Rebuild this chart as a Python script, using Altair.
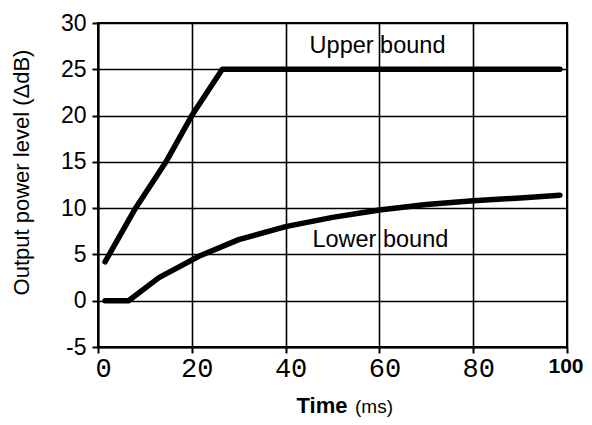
import altair as alt
import pandas as pd

# ---- data ----
upper_t = [1.5, 8, 14.5, 20, 26.5, 98.5]
upper_db = [4.2, 10, 15, 20, 25, 25]
lower_t = [1.5, 6.5, 13, 21.5, 30, 40, 50, 60, 70, 80, 90, 98.5]
lower_db = [0, 0, 2.5, 4.8, 6.6, 8.0, 9.0, 9.8, 10.4, 10.8, 11.1, 11.4]
x_ticks = [0, 20, 40, 60, 80, 100]
y_ticks = [-5, 0, 5, 10, 15, 20, 25, 30]
ann_text = ["Upper bound", "Lower bound"]
ann_t = [59.6, 60.2]
ann_db = [27.5, 6.6]

lines = pd.DataFrame({
    "t": upper_t + lower_t,
    "db": upper_db + lower_db,
    "series": ["Upper"] * len(upper_t) + ["Lower"] * len(lower_t),
})
ann = pd.DataFrame({"label": ann_text, "t": ann_t, "db": ann_db})

is100 = "datum.value == 100"
x_enc = alt.X(
    "t:Q",
    scale=alt.Scale(domain=[0, 100], nice=False, zero=False),
    axis=alt.Axis(
        values=x_ticks, grid=True, title=None,
        labelFont={"condition": {"test": is100, "value": "Liberation Sans"}, "value": "Liberation Mono"},
        labelFontSize={"condition": {"test": is100, "value": 21}, "value": 27},
        labelFontWeight={"condition": {"test": is100, "value": "bold"}, "value": "normal"},
        labelAlign={"condition": {"test": is100, "value": "right"}, "value": "center"},
        labelOffset={"condition": {"test": is100, "value": 16}, "value": 5},
        labelPadding=2, labelColor="black", labelBound=False, labelOverlap=False,
    ),
)
y_enc = alt.Y(
    "db:Q",
    scale=alt.Scale(domain=[-5, 30], nice=False, zero=False),
    axis=alt.Axis(
        values=y_ticks, grid=True, title="Output power level (\u0394dB)",
        labelExpr="'' + datum.value", labelFont="Liberation Sans", labelFontSize=23,
        labelPadding=6, labelColor="black",
        titleFont="Liberation Sans", titleFontSize=22, titleFontWeight="normal", titleColor="black",
        titleX=-77, titleY=149, titleAngle=270, titleAlign="center", titleBaseline="middle",
    ),
)

line = alt.Chart(lines).mark_line(color="black", strokeWidth=5.5, strokeCap="round", strokeJoin="round").encode(
    x=x_enc, y=y_enc, detail="series:N", order="t:Q"
)

labels = alt.Chart(ann).mark_text(font="Liberation Sans", fontSize=23.5, color="black", align="center", baseline="middle").encode(
    x="t:Q", y="db:Q", text="label:N"
)

time_txt = alt.Chart(pd.DataFrame({"s": ["Time"]})).mark_text(
    font="Liberation Sans", fontSize=22, fontWeight="bold", color="black", align="center", baseline="alphabetic"
).encode(x=alt.value(224), y=alt.value(390), text="s:N")

ms_txt = alt.Chart(pd.DataFrame({"s": ["(ms)"]})).mark_text(
    font="Liberation Sans", fontSize=19, color="black", align="center", baseline="alphabetic"
).encode(x=alt.value(276), y=alt.value(390), text="s:N")

chart = alt.layer(line, labels, time_txt, ms_txt).properties(
    width=469, height=324,
    autosize=alt.AutoSizeParams(type="none"),
    padding={"left": 90, "top": 15, "right": 17, "bottom": 70},
).configure_axis(
    gridColor="black", gridWidth=1.6, gridOpacity=1,
    domainColor="black", domainWidth=2,
    tickColor="black", tickWidth=2, tickSize=6,
).configure_view(stroke="black", strokeWidth=2)

chart.save("out.html", embed_options={"renderer": "svg", "actions": False})
